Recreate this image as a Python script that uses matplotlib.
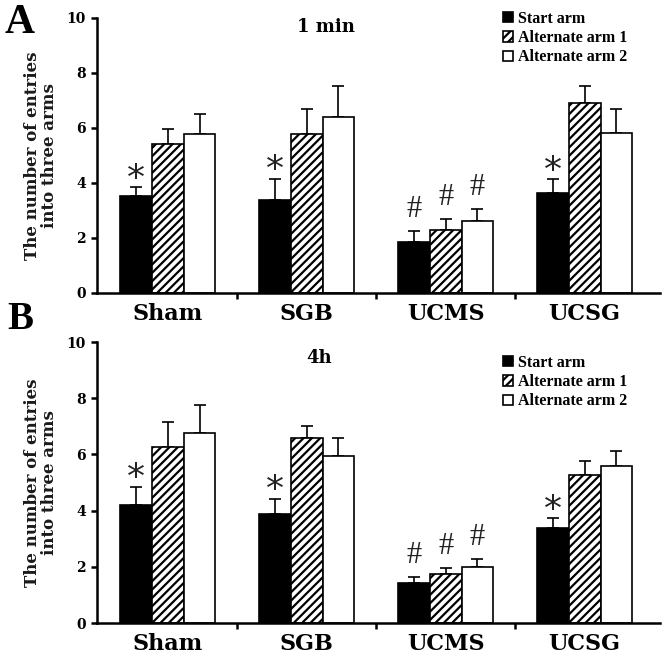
import numpy as np
import matplotlib
matplotlib.use("Agg")
import matplotlib.pyplot as plt

plt.rcParams['font.family'] = ['Liberation Serif', 'DejaVu Serif']
plt.rcParams['font.weight'] = 'bold'
plt.rcParams['hatch.linewidth'] = 1.6

# groups and series
groups = ["Sham", "SGB", "UCMS", "UCSG"]
series = ["Start arm", "Alternate arm 1", "Alternate arm 2"]

# panel A : 1 min
a_start = [3.52, 3.38, 1.87, 3.63]
a_alt1 = [5.40, 5.78, 2.29, 6.92]
a_alt2 = [5.78, 6.40, 2.60, 5.82]
a_start_err = [0.32, 0.76, 0.38, 0.50]
a_alt1_err = [0.58, 0.92, 0.40, 0.60]
a_alt2_err = [0.72, 1.13, 0.45, 0.88]

# panel B : 4h
b_start = [4.20, 3.88, 1.43, 3.38]
b_alt1 = [6.28, 6.58, 1.75, 5.25]
b_alt2 = [6.75, 5.96, 2.00, 5.60]
b_start_err = [0.64, 0.54, 0.22, 0.34]
b_alt1_err = [0.86, 0.44, 0.22, 0.53]
b_alt2_err = [1.00, 0.62, 0.29, 0.53]

# significance marks (series index, group index, symbol)
a_marks = [(0, 0, "*"), (0, 1, "*"), (0, 2, "#"), (1, 2, "#"), (2, 2, "#"), (0, 3, "*")]
b_marks = [(0, 0, "*"), (0, 1, "*"), (0, 2, "#"), (1, 2, "#"), (2, 2, "#"), (0, 3, "*")]

SERIF = ["DejaVu Serif"]


def draw_panel(ax, vals, errs, marks, title, title_xy, leg_anchor):
    x = np.arange(len(groups))
    w = 0.228
    styles = [dict(color="black", edgecolor="black"),
              dict(color="white", edgecolor="black", hatch="////"),
              dict(color="white", edgecolor="black")]
    for i in range(3):
        xs = x + (i - 1) * w
        ax.bar(xs, vals[i], w, linewidth=1.2, label=series[i], zorder=2, **styles[i])
        ax.errorbar(xs, vals[i], yerr=[np.zeros(len(groups)), errs[i]], fmt="none",
                    ecolor="black", elinewidth=1.2, capsize=4, capthick=1.2, zorder=1)
    for s, g, sym in marks:
        top = vals[s][g] + errs[s][g]
        if sym == "*":
            ax.annotate(sym, (x[g] + (s - 1) * w, top), xytext=(0, -6), textcoords="offset points",
                        ha="center", va="bottom", fontsize=26, fontweight="normal",
                        family=["DejaVu Sans"], color="#222222")
        else:
            ax.annotate(sym, (x[g] + (s - 1) * w, top), xytext=(0, 5), textcoords="offset points",
                        ha="center", va="bottom", fontsize=22, fontweight="normal",
                        color="#222222")

    ax.set_xlim(-0.51, 3.54)
    ax.set_ylim(0, 10)
    ax.set_yticks([0, 2, 4, 6, 8, 10])
    ax.set_yticklabels([str(v) for v in [0, 2, 4, 6, 8, 10]], fontsize=10,
                       fontweight="bold", family=SERIF)
    ax.tick_params(axis="y", width=1.8, length=4, direction="out", pad=4)
    ax.set_xticks(x)
    ax.set_xticklabels(groups, fontsize=16, fontweight="bold", family=SERIF)
    ax.set_xticks([0.5, 1.5, 2.5], minor=True)
    ax.tick_params(axis="x", which="major", length=0, pad=7)
    ax.tick_params(axis="x", which="minor", length=4, width=1.8, direction="out")
    for sp in ["top", "right"]:
        ax.spines[sp].set_visible(False)
    for sp in ["left", "bottom"]:
        ax.spines[sp].set_linewidth(1.8)
    ax.set_ylabel("The number of entries\ninto three arms", fontsize=12, fontweight="bold",
                  family=SERIF, linespacing=1.0, labelpad=6, color="#1a1a1a")
    ax.text(title_xy[0], title_xy[1], title, ha="center", va="center", fontsize=13,
            fontweight="bold", family=SERIF)
    ax.legend(loc="upper left", bbox_to_anchor=leg_anchor, bbox_transform=fig.transFigure,
              frameon=False, fontsize=11.5, handlelength=0.6, handleheight=0.6,
              handletextpad=0.35, labelspacing=0.2, borderpad=0.0, borderaxespad=0.0)


fig = plt.figure(figsize=(6.66, 6.59), dpi=100)
ax1 = fig.add_axes([0.1456, 0.5554, 0.845, 0.4173])
ax2 = fig.add_axes([0.1456, 0.0546, 0.845, 0.4264])

draw_panel(ax1, [a_start, a_alt1, a_alt2], [a_start_err, a_alt1_err, a_alt2_err], a_marks,
           "1 min", (1.14, 9.67), (503 / 666, 1 - 11 / 659))
draw_panel(ax2, [b_start, b_alt1, b_alt2], [b_start_err, b_alt1_err, b_alt2_err], b_marks,
           "4h", (1.09, 9.43), (503 / 666, 1 - 355 / 659))

fig.text(20 / 666, 1 - 33 / 659, "A", fontsize=30, fontweight="bold", ha="center", va="baseline")
fig.text(20 / 666, 1 - 329 / 659, "B", fontsize=28, fontweight="bold", ha="center", va="baseline")

fig.savefig("out.png", dpi=100)
